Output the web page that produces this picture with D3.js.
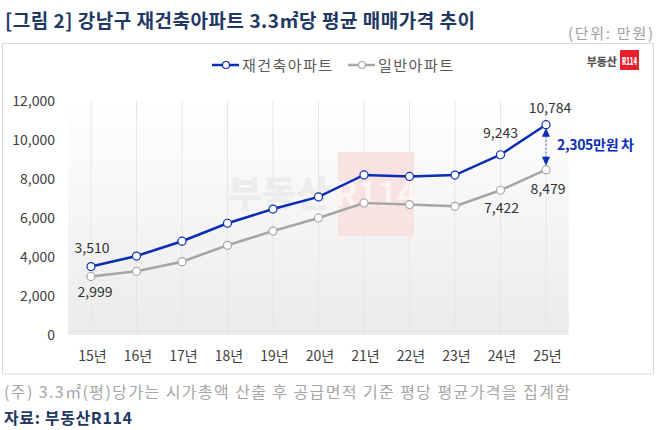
<!DOCTYPE html>
<html><head><meta charset="utf-8">
<script src="https://cdn.jsdelivr.net/npm/d3@7"></script>
<style>
body{margin:0;background:#fff;}
text{font-family:"Noto Sans CJK KR","Noto Sans",sans-serif;}
</style></head>
<body><svg id="c" width="658" height="430"></svg>
<script>
const categories = ["15년","16년","17년","18년","19년","20년","21년","22년","23년","24년","25년"];
const reconstruction = [3510,4050,4810,5730,6460,7080,8210,8130,8200,9243,10784];
const general = [2999,3270,3760,4600,5330,6000,6770,6690,6600,7422,8479];
const yTicks = [0,2000,4000,6000,8000,10000,12000];
const seriesNames = ["재건축아파트","일반아파트"];
const labeled = [0,9,10];

const svg = d3.select("#c");
const blue = "#0a2db4", gray = "#a6a6a6", navy = "#1f3864";

// title
svg.append("text").attr("x",5).attr("y",28).attr("font-size",19).attr("font-weight",700)
  .attr("fill",navy).attr("textLength",470).attr("lengthAdjust","spacing")
  .text("[그림 2] 강남구 재건축아파트 3.3㎡당 평균 매매가격 추이");
svg.append("text").attr("x",568).attr("y",39).attr("font-size",15)
  .attr("fill","#a0a0a0").attr("textLength",85).attr("lengthAdjust","spacing").text("(단위: 만원)");

// frame
svg.append("rect").attr("x",2.5).attr("y",43.5).attr("width",651).attr("height",330.5)
  .attr("fill","#fff").attr("stroke","#d9d9d9");

const x = d3.scalePoint().domain(categories).range([91,546]);
const y = d3.scaleLinear().domain([0,12000]).range([335,101]);
const step = x.step();

const defs = svg.append("defs");
const grad = defs.append("linearGradient").attr("id","bg").attr("x1",0).attr("x2",0).attr("y1",0).attr("y2",1);
grad.append("stop").attr("offset","0%").attr("stop-color","#ffffff");
grad.append("stop").attr("offset","100%").attr("stop-color","#ebebeb");

const x0 = x(categories[0]) - step/2, x1 = x(categories[categories.length-1]) + step/2;
svg.append("rect").attr("x",x0).attr("y",y(12000)).attr("width",x1-x0).attr("height",y(0)-y(12000))
  .attr("fill","url(#bg)");

// vertical gridlines
svg.append("g").selectAll("line").data(categories).join("line")
  .attr("x1",d=>x(d)).attr("x2",d=>x(d)).attr("y1",y(12000)).attr("y2",y(0))
  .attr("stroke","#e6e6e6").attr("stroke-width",1);

// watermark
const wm = svg.append("g");
wm.append("text").attr("x",228).attr("y",207).attr("font-size",36)
  .attr("font-weight",900).attr("fill","#ececec").attr("textLength",102).attr("lengthAdjust","spacingAndGlyphs").text("부동산");
wm.append("rect").attr("x",338).attr("y",152).attr("width",76).attr("height",84).attr("fill","#f8e2e2");
wm.append("text").attr("x",376).attr("y",206).attr("text-anchor","middle").attr("font-size",34)
  .attr("font-weight",700).attr("fill","#fdf4f4").text("R114");

// axes
const yAxis = d3.axisLeft(y).tickValues(yTicks).tickSize(0).tickPadding(0).tickFormat(d3.format(","));
const gy = svg.append("g").attr("transform","translate(55,0)").call(yAxis);
gy.select(".domain").remove();
gy.selectAll("text").attr("font-size",14).attr("fill","#404040").attr("font-family","'Noto Sans CJK KR',sans-serif");

const xAxis = d3.axisBottom(x).tickSize(0).tickPadding(0);
const gx = svg.append("g").attr("transform","translate(1,351)").call(xAxis);
gx.select(".domain").remove();
gx.selectAll("text").attr("font-size",14).attr("fill","#404040").attr("dy","0.71em").attr("font-family","'Noto Sans CJK KR',sans-serif");

// lines
const line = d3.line().x((d,i)=>x(categories[i])).y(d=>y(d));
function drawSeries(data,color){
  svg.append("path").datum(data).attr("d",line).attr("fill","none").attr("stroke",color).attr("stroke-width",2.5);
  svg.append("g").selectAll("circle").data(data).join("circle")
    .attr("cx",(d,i)=>x(categories[i])).attr("cy",d=>y(d)).attr("r",4)
    .attr("fill","#fff").attr("stroke",color).attr("stroke-width",1.2);
}
drawSeries(general,gray);
drawSeries(reconstruction,blue);

// data labels
const fmt = d3.format(",");
const rOff = {0:[1,-14],9:[0,-17],10:[4,-12]};
const gOff = {0:[4,20],9:[1,23],10:[2,24]};
labeled.forEach(i=>{
  svg.append("text").attr("x",x(categories[i])+rOff[i][0]).attr("y",y(reconstruction[i])+rOff[i][1])
    .attr("text-anchor","middle").attr("font-size",14).attr("fill","#333").text(fmt(reconstruction[i]));
  svg.append("text").attr("x",x(categories[i])+gOff[i][0]).attr("y",y(general[i])+gOff[i][1])
    .attr("text-anchor","middle").attr("font-size",14).attr("fill","#333").text(fmt(general[i]));
});

// difference annotation
const last = categories.length-1, ax = x(categories[last]);
const ya = y(reconstruction[last])+3, yb = y(general[last])-4;
svg.append("line").attr("x1",ax).attr("x2",ax).attr("y1",ya+8).attr("y2",yb-8)
  .attr("stroke","#3355cc").attr("stroke-width",1).attr("stroke-dasharray","2,2");
svg.append("path").attr("d",`M${ax},${ya} L${ax-4},${ya+9} L${ax+4},${ya+9}Z`).attr("fill",blue);
svg.append("path").attr("d",`M${ax},${yb} L${ax-4},${yb-9} L${ax+4},${yb-9}Z`).attr("fill",blue);
svg.append("text").attr("x",557).attr("y",150).attr("font-size",14).attr("font-weight",700)
  .attr("fill",blue).attr("textLength",77).attr("lengthAdjust","spacing")
  .text(fmt(reconstruction[last]-general[last])+"만원 차");

// legend
const lg = [{name:seriesNames[0],c:blue,x:212,w:90},{name:seriesNames[1],c:gray,x:348,w:75}];
lg.forEach(l=>{
  svg.append("line").attr("x1",l.x).attr("x2",l.x+27).attr("y1",65).attr("y2",65).attr("stroke",l.c).attr("stroke-width",2.5);
  svg.append("circle").attr("cx",l.x+14).attr("cy",65).attr("r",3.5).attr("fill","#fff").attr("stroke",l.c).attr("stroke-width",1.2);
  svg.append("text").attr("x",l.x+30).attr("y",70.5).attr("font-size",15).attr("fill","#595959")
    .attr("textLength",l.w).attr("lengthAdjust","spacing").text(l.name);
});

// logo
svg.append("text").attr("x",617).attr("y",66).attr("text-anchor","end").attr("font-size",11)
  .attr("font-weight",900).attr("fill","#555").text("부동산");
svg.append("rect").attr("x",620).attr("y",50).attr("width",19).attr("height",20).attr("fill","#e8202d");
svg.append("text").attr("x",629.5).attr("y",65).attr("text-anchor","middle").attr("font-size",10.5)
  .attr("font-weight",900).attr("fill","#fff").attr("textLength",15).attr("lengthAdjust","spacingAndGlyphs").text("R114");

// footer
svg.append("text").attr("x",4).attr("y",398).attr("font-size",16).attr("fill","#a6a6a6")
  .attr("textLength",566).attr("lengthAdjust","spacing")
  .text("(주) 3.3㎡(평)당가는 시가총액 산출 후 공급면적 기준 평당 평균가격을 집계함");
svg.append("text").attr("x",4).attr("y",424).attr("font-size",16).attr("font-weight",700)
  .attr("fill",navy).attr("textLength",128).attr("lengthAdjust","spacing").text("자료: 부동산R114");
</script></body></html>
